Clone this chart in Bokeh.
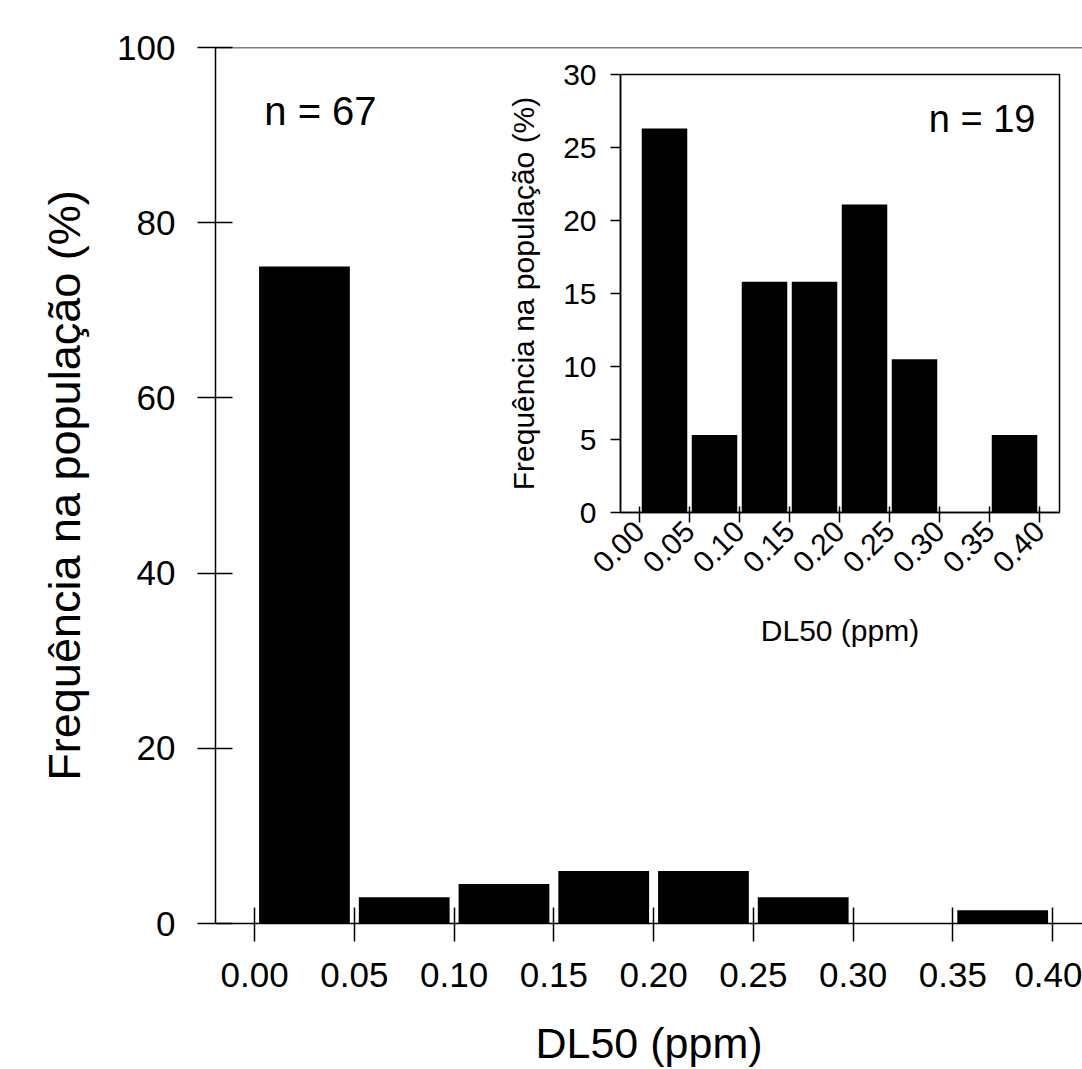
import math
from bokeh.plotting import figure
from bokeh.models import FixedTicker, Span, Label
from bokeh.embed import file_html
from bokeh.resources import INLINE

# ---- data ----
bin_edges = [0.00, 0.05, 0.10, 0.15, 0.20, 0.25, 0.30, 0.35, 0.40]
x_tick_labels = ["0.00", "0.05", "0.10", "0.15", "0.20", "0.25", "0.30", "0.35", "0.40"]
main_freq = [75.0, 3.0, 4.5, 6.0, 6.0, 3.0, 0.0, 1.5]      # n = 67
inset_freq = [26.3, 5.3, 15.8, 15.8, 21.1, 10.5, 0.0, 5.3]  # n = 19
main_y_ticks = [0, 20, 40, 60, 80, 100]
inset_y_ticks = [0, 5, 10, 15, 20, 25, 30]
main_n_text = "n = 67"
inset_n_text = "n = 19"
x_title = "DL50 (ppm)"
y_title = "Frequência na população (%)"

FONT = "Liberation Sans"
centers = [(a + b) / 2 for a, b in zip(bin_edges[:-1], bin_edges[1:])]
overrides = dict(zip(bin_edges, x_tick_labels))

# ---- main chart ----
p = figure(width=1082, height=1069, x_range=(-0.0196, 0.415), y_range=(0, 100),
           output_backend="svg", toolbar_location=None,
           min_border_left=215, min_border_right=0, min_border_top=47, min_border_bottom=146)
p.outline_line_color = None
p.grid.visible = False
p.background_fill_color = "white"
p.border_fill_color = "white"

p.vbar(x=centers, top=main_freq, bottom=0, width=0.0455, fill_color="black", line_color=None)

p.add_layout(Span(location=100, dimension="width", line_color="black", line_width=1.5))

for ax in (p.xaxis, p.yaxis):
    ax.axis_line_width = 1.5
    ax.axis_line_color = "black"
    ax.major_tick_line_width = 1.5
    ax.major_tick_line_color = "black"
    ax.minor_tick_line_color = None
    ax.major_label_text_font = FONT
    ax.major_label_text_font_size = "35px"
    ax.major_label_text_color = "black"
    ax.axis_label_text_font = FONT
    ax.axis_label_text_font_style = "normal"
    ax.axis_label_text_color = "black"

p.xaxis.ticker = FixedTicker(ticks=bin_edges)
p.xaxis.major_label_overrides = overrides
p.xaxis.major_tick_in = 16
p.xaxis.major_tick_out = 18
p.xaxis.major_label_standoff = 21
p.xaxis.axis_label = x_title
p.xaxis.axis_label_text_font_size = "43px"
p.xaxis.axis_label_standoff = 29

p.yaxis.ticker = FixedTicker(ticks=main_y_ticks)
p.yaxis.major_tick_in = 17
p.yaxis.major_tick_out = 18
p.yaxis.major_label_standoff = 22
p.yaxis.axis_label = y_title
p.yaxis.axis_label_text_font_size = "45px"
p.yaxis.axis_label_standoff = 24

p.add_layout(Label(x=0.033, y=92.7, text=main_n_text, text_align="center",
                   text_baseline="middle", text_font=FONT, text_font_size="40px",
                   text_color="black"))

# ---- inset chart ----
q = figure(width=571, height=604, x_range=(-0.019, 0.42), y_range=(0, 30),
           output_backend="svg", toolbar_location=None,
           min_border_left=122, min_border_right=10, min_border_top=24, min_border_bottom=142)
q.outline_line_color = "black"
q.outline_line_width = 1.5
q.grid.visible = False
q.background_fill_color = "white"
q.border_fill_color = None

q.vbar(x=centers, top=inset_freq, bottom=0, width=0.0455, fill_color="black", line_color=None)

for ax in (q.xaxis, q.yaxis):
    ax.axis_line_width = 1.5
    ax.axis_line_color = "black"
    ax.major_tick_line_width = 1.5
    ax.major_tick_line_color = "black"
    ax.minor_tick_line_color = None
    ax.major_label_text_font = FONT
    ax.major_label_text_font_size = "30px"
    ax.major_label_text_color = "black"
    ax.axis_label_text_font = FONT
    ax.axis_label_text_font_size = "30px"
    ax.axis_label_text_font_style = "normal"
    ax.axis_label_text_color = "black"

q.xaxis.ticker = FixedTicker(ticks=bin_edges)
q.xaxis.major_label_overrides = overrides
q.xaxis.major_tick_in = 6
q.xaxis.major_tick_out = 10
q.xaxis.major_label_orientation = math.pi / 4
q.xaxis.major_label_standoff = 4
q.xaxis.axis_label = x_title
q.xaxis.axis_label_standoff = 29

q.yaxis.ticker = FixedTicker(ticks=inset_y_ticks)
q.yaxis.major_tick_in = 0
q.yaxis.major_tick_out = 10
q.yaxis.major_label_standoff = 14
q.yaxis.axis_label = y_title
q.yaxis.axis_label_standoff = 20

q.add_layout(Label(x=0.396, y=26.95, text=inset_n_text, text_align="right",
                   text_baseline="middle", text_font=FONT, text_font_size="38px",
                   text_color="black"))

# inset placed on the page over the main chart
q.styles = {"position": "absolute", "left": "498px", "top": "50px", "z-index": "10"}

open("out.html", "w").write(file_html([p, q], INLINE))
